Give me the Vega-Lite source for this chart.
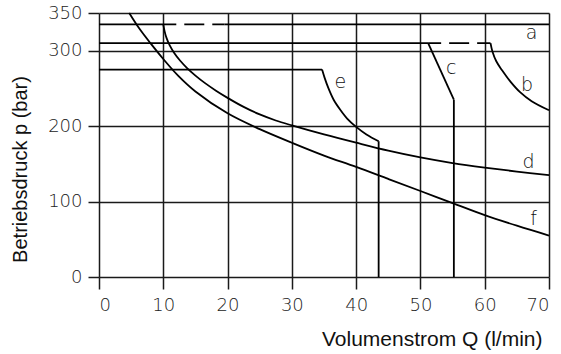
{
  "$schema": "https://vega.github.io/schema/vega-lite/v6.json",
  "width": 450,
  "height": 264,
  "autosize": "none",
  "padding": {"left": 99, "top": 13, "right": 12, "bottom": 77},
  "background": "white",
  "config": {"view": {"stroke": null}},
  "datasets": {
    "lines": [
      {"s": "a1", "x": 0, "y": 335}, {"s": "a1", "x": 10, "y": 335},
      {"s": "a2", "x": 19.5, "y": 335}, {"s": "a2", "x": 70, "y": 335},
      {"s": "b1", "x": 0, "y": 310}, {"s": "b1", "x": 51.2, "y": 310},
      {"s": "b2", "x": 60.9, "y": 310}, {"s": "b2", "x": 61.2, "y": 299}, {"s": "b2", "x": 61.8, "y": 286}, {"s": "b2", "x": 62.7, "y": 274}, {"s": "b2", "x": 64.0, "y": 259}, {"s": "b2", "x": 65.5, "y": 245}, {"s": "b2", "x": 67.3, "y": 233}, {"s": "b2", "x": 70, "y": 221},
      {"s": "c1", "x": 51.2, "y": 310}, {"s": "c1", "x": 55.2, "y": 235},
      {"s": "c2", "x": 55.2, "y": 235}, {"s": "c2", "x": 55.2, "y": 0},
      {"s": "e1", "x": 0, "y": 275}, {"s": "e1", "x": 34.7, "y": 275},
      {"s": "e2", "x": 34.7, "y": 275}, {"s": "e2", "x": 35.1, "y": 264}, {"s": "e2", "x": 35.7, "y": 250}, {"s": "e2", "x": 36.5, "y": 235}, {"s": "e2", "x": 37.5, "y": 222}, {"s": "e2", "x": 38.6, "y": 210}, {"s": "e2", "x": 40.0, "y": 199}, {"s": "e2", "x": 41.6, "y": 189}, {"s": "e2", "x": 43.5, "y": 180},
      {"s": "e3", "x": 43.5, "y": 180}, {"s": "e3", "x": 43.5, "y": 0},
      {"s": "d", "x": 10, "y": 335}, {"s": "d", "x": 10.2, "y": 326}, {"s": "d", "x": 10.5, "y": 317}, {"s": "d", "x": 11, "y": 307}, {"s": "d", "x": 11.7, "y": 297}, {"s": "d", "x": 12.6, "y": 287}, {"s": "d", "x": 13.7, "y": 277}, {"s": "d", "x": 15, "y": 267}, {"s": "d", "x": 16.5, "y": 257}, {"s": "d", "x": 18.2, "y": 247}, {"s": "d", "x": 20, "y": 237.5}, {"s": "d", "x": 22.5, "y": 225.5}, {"s": "d", "x": 25, "y": 215.5}, {"s": "d", "x": 27.5, "y": 207.5}, {"s": "d", "x": 30, "y": 201}, {"s": "d", "x": 35, "y": 189}, {"s": "d", "x": 40, "y": 178}, {"s": "d", "x": 45, "y": 167.5}, {"s": "d", "x": 50, "y": 158.5}, {"s": "d", "x": 55, "y": 151}, {"s": "d", "x": 60, "y": 145}, {"s": "d", "x": 65, "y": 139.8}, {"s": "d", "x": 70, "y": 135},
      {"s": "f", "x": 4.7, "y": 350}, {"s": "f", "x": 6.3, "y": 329}, {"s": "f", "x": 8.0, "y": 310}, {"s": "f", "x": 10, "y": 289}, {"s": "f", "x": 12.3, "y": 267}, {"s": "f", "x": 15, "y": 246}, {"s": "f", "x": 20, "y": 217}, {"s": "f", "x": 25, "y": 196}, {"s": "f", "x": 30, "y": 178}, {"s": "f", "x": 35, "y": 161}, {"s": "f", "x": 40, "y": 146}, {"s": "f", "x": 45, "y": 130}, {"s": "f", "x": 50, "y": 114}, {"s": "f", "x": 55, "y": 98}, {"s": "f", "x": 60, "y": 82}, {"s": "f", "x": 65, "y": 68}, {"s": "f", "x": 70, "y": 55}
    ],
    "dashes": [
      {"s": "a", "x": 10, "y": 335}, {"s": "a", "x": 19.5, "y": 335},
      {"s": "b", "x": 51.2, "y": 310}, {"s": "b", "x": 60.9, "y": 310}
    ],
    "labels": [
      {"t": "a", "x": 67.3, "y": 315.6},
      {"t": "b", "x": 66.6, "y": 246.2},
      {"t": "c", "x": 54.8, "y": 269.7},
      {"t": "d", "x": 66.8, "y": 144.8},
      {"t": "e", "x": 37.55, "y": 250.7},
      {"t": "f", "x": 67.6, "y": 68.4}
    ]
  },
  "encoding": {
    "x": {
      "field": "x", "type": "quantitative",
      "scale": {"domain": [0, 70], "nice": false},
      "axis": {
        "values": [0, 10, 20, 30, 40, 50, 60, 70],
        "grid": true, "gridColor": "#1a1a1a", "gridWidth": 1.5, "gridOpacity": 1,
        "domain": false,
        "tickSize": 12, "tickColor": "#1a1a1a", "tickWidth": 1.5,
        "labelFont": "DejaVu Sans", "labelFontSize": 18, "labelColor": "#222", "labelPadding": 7, "labelFontWeight": 300,
        "title": "Volumenstrom Q (l/min)",
        "titleFont": "Liberation Sans", "titleFontSize": 21, "titleFontWeight": "normal", "titleColor": "#111",
        "titleAlign": "right", "titleBaseline": "alphabetic", "titleX": 443, "titleY": 68
      }
    },
    "y": {
      "field": "y", "type": "quantitative",
      "scale": {"domain": [0, 350], "nice": false},
      "axis": {
        "values": [0, 100, 200, 300, 350],
        "grid": true, "gridColor": "#1a1a1a", "gridWidth": 1.5, "gridOpacity": 1,
        "domain": false,
        "tickSize": 11, "tickColor": "#1a1a1a", "tickWidth": 1.5,
        "labelFont": "DejaVu Sans", "labelFontSize": 18, "labelColor": "#222", "labelPadding": 6, "labelFontWeight": 300,
        "title": "Betriebsdruck p (bar)",
        "titleFont": "Liberation Sans", "titleFontSize": 20, "titleFontWeight": "normal", "titleColor": "#111",
        "titleAngle": 270, "titleAlign": "center", "titleBaseline": "middle", "titleX": -79, "titleY": 156
      }
    }
  },
  "layer": [
    {
      "data": {"name": "lines"},
      "mark": {"type": "line", "color": "black", "strokeWidth": 1.8, "interpolate": "catmull-rom", "clip": false},
      "encoding": {"detail": {"field": "s", "type": "nominal"}}
    },
    {
      "data": {"name": "dashes"},
      "mark": {"type": "line", "color": "black", "strokeWidth": 1.8, "strokeDash": [20, 8], "strokeDashOffset": 7},
      "encoding": {"detail": {"field": "s", "type": "nominal"}}
    },
    {
      "data": {"name": "labels"},
      "mark": {"type": "text", "font": "DejaVu Sans", "fontSize": 19, "fontWeight": 300, "baseline": "alphabetic", "align": "center", "color": "#111"},
      "encoding": {"text": {"field": "t", "type": "nominal"}}
    }
  ]
}
